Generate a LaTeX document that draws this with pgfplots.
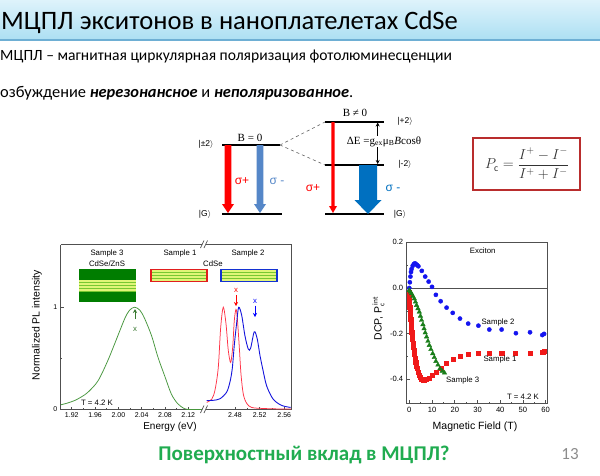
\documentclass[border=0pt]{standalone}
\usepackage{fontspec}
\setmainfont{Carlito}
\newfontfamily\chartfont{Liberation Sans}
\newfontfamily\tnr{Liberation Serif}
\usepackage{pgfplots}
\pgfplotsset{compat=1.18}
\usetikzlibrary{arrows.meta}
\definecolor{titletop}{RGB}{222,243,251}
\definecolor{titlebot}{RGB}{172,223,243}
\definecolor{titleline}{RGB}{110,175,212}
\definecolor{dgreen}{RGB}{0,125,0}
\definecolor{curvegreen}{RGB}{70,150,60}
\definecolor{curvered}{RGB}{255,50,70}
\definecolor{curveblue}{RGB}{20,20,220}
\definecolor{stripeY}{RGB}{225,245,120}
\definecolor{stripeG}{RGB}{120,200,50}
\definecolor{boxred}{RGB}{225,30,30}
\definecolor{boxblue}{RGB}{20,50,210}
\definecolor{steel}{RGB}{85,135,200}
\definecolor{office}{RGB}{0,112,192}
\definecolor{formred}{RGB}{185,45,45}
\definecolor{slidegreen}{RGB}{32,172,80}
\definecolor{mkblue}{RGB}{20,20,240}
\definecolor{mkred}{RGB}{240,25,25}
\definecolor{mkgreen}{RGB}{25,125,25}
\definecolor{axgray}{RGB}{80,80,80}
\begin{document}
\begin{tikzpicture}
\useasboundingbox (0pt,0pt) rectangle (600pt,-475pt);
\begin{scope}[x=1pt,y=-1pt]
\fill[white] (0,0) rectangle (600,475);
\shade[top color=titletop,bottom color=titlebot] (0,0) rectangle (600,40);
\draw[titleline,line width=1.2pt] (0,40) -- (600,40);
\node[anchor=base west,inner sep=0,font=\fontsize{26.6}{30}\selectfont] at (1,29) {МЦПЛ экситонов в наноплателетах CdSe};
\node[anchor=base west,inner sep=0,font=\fontsize{15.6}{19}\selectfont] at (0,60) {МЦПЛ – магнитная циркулярная поляризация фотолюминесценции};
\node[anchor=base west,inner sep=0,font=\fontsize{16.4}{19}\selectfont] at (0,97) {озбуждение \textbf{\textit{нерезонансное}} и \textbf{\textit{неполяризованное}}.};
\node[anchor=base,inner sep=0,font=\fontsize{21}{25}\selectfont\bfseries,text=slidegreen] at (304,460.7) {Поверхностный вклад в МЦПЛ?};
\node[anchor=base,inner sep=0,font=\fontsize{17}{20}\selectfont,text=black!45] at (570,459.3) {13};
\end{scope}

% ---------- left chart, first segment ----------
\begin{axis}[at={(60.7pt,-409.5pt)},anchor=south west,scale only axis,
  width=141.3pt,height=165pt,
  xmin=1.901,xmax=2.1435,ymin=0,ymax=1.613,
  axis x line*=box, axis y line*=left,
  xtick={1.92,1.96,2.00,2.04,2.08,2.12},
  xticklabels={1.92,1.96,2.00,2.04,2.08,2.12},
  ytick={0,1}, yticklabels={0,1},
  minor x tick num=1, minor y tick num=1,
  xtick pos=left, ytick pos=left,
  tick align=inside, major tick length=3pt, minor tick length=1.5pt,
  tick style={axgray,line width=0.6pt},
  axis line style={axgray,line width=0.7pt},
  tick label style={font=\chartfont\fontsize{7}{8}\selectfont},
  /pgf/number format/assume math mode=true]
\addplot[curvegreen,line width=0.75pt,smooth] coordinates {
(1.901,0.046) (1.912,0.062) (1.925,0.088) (1.937,0.125) (1.948,0.17) (1.965,0.28)
(1.982,0.48) (1.999,0.72) (2.011,0.89) (2.019,0.97) (2.028,1.0) (2.037,0.97)
(2.045,0.89) (2.057,0.72) (2.068,0.51) (2.080,0.32) (2.091,0.15) (2.102,0.056)
(2.114,0.007) (2.125,0.0) (2.1435,0.0)};
\end{axis}

% ---------- left chart, second segment ----------
\begin{axis}[at={(206pt,-409.5pt)},anchor=south west,scale only axis,
  width=85.7pt,height=165pt,
  xmin=2.433,xmax=2.572,ymin=0,ymax=1.613,
  axis x line*=box, axis y line*=right,
  xtick={2.48,2.52,2.56}, xticklabels={2.48,2.52,2.56},
  ytick=\empty, minor x tick num=1, xtick pos=left,
  tick align=inside, major tick length=3pt, minor tick length=1.5pt,
  tick style={axgray,line width=0.6pt},
  axis line style={axgray,line width=0.7pt},
  tick label style={font=\chartfont\fontsize{7}{8}\selectfont},
  /pgf/number format/assume math mode=true]
\addplot[curvered,line width=0.75pt,smooth] coordinates {
(2.4341,0.07) (2.4422,0.10) (2.4476,0.19) (2.4529,0.41) (2.4568,0.80) (2.4610,1.0)
(2.4654,0.84) (2.4691,0.58) (2.4730,0.46) (2.4763,0.61) (2.4789,0.87) (2.4816,0.98)
(2.4837,0.90) (2.4870,0.61) (2.4897,0.35) (2.4935,0.15) (2.4990,0.06) (2.5071,0.02)
(2.5259,0.01) (2.5557,0.005) (2.571,0.005)};
\addplot[curveblue,line width=0.9pt,smooth] coordinates {
(2.4341,0.088) (2.4448,0.09) (2.4557,0.105) (2.4665,0.17) (2.4719,0.27) (2.4756,0.40)
(2.4789,0.63) (2.4828,0.85) (2.4860,1.0) (2.4909,0.92) (2.4962,0.72) (2.5016,0.59)
(2.5054,0.60) (2.5113,0.76) (2.5161,0.69) (2.5205,0.53) (2.5249,0.40) (2.5314,0.23)
(2.5421,0.10) (2.5557,0.04) (2.5703,0.02)};
\end{axis}

% ---------- right chart ----------
\begin{axis}[at={(406.7pt,-403.3pt)},anchor=south west,scale only axis,
  width=140.6pt,height=161pt,
  xmin=-1.14,xmax=60.7,ymin=-0.505,ymax=0.2,
  xtick={0,10,20,30,40,50,60},
  ytick={-0.4,-0.2,0,0.2}, yticklabels={-0.4,-0.2,0.0,0.2},
  minor x tick num=1, minor y tick num=1,
  xtick pos=left, ytick pos=left,
  tick align=inside, major tick length=3pt, minor tick length=1.5pt,
  tick style={axgray,line width=0.6pt},
  axis line style={axgray,line width=0.9pt},
  tick label style={font=\chartfont\fontsize{7.6}{9}\selectfont},
  /pgf/number format/assume math mode=true]
\draw[axgray,line width=0.9pt] (axis cs:-1.14,0) -- (axis cs:60.7,0);
\addplot[only marks,mark=square*,mark size=2.1pt,mkred] coordinates {
(0,-0.017) (0,-0.04) (0.05,-0.061) (0.16,-0.083) (0.3,-0.10) (0.45,-0.119)
(0.6,-0.137) (0.75,-0.156) (0.9,-0.174) (1.04,-0.192) (1.2,-0.21) (1.33,-0.225)
(1.55,-0.242) (1.77,-0.258) (2.0,-0.275) (2.2,-0.290) (2.5,-0.307) (2.8,-0.324)
(3.1,-0.34) (3.5,-0.353) (3.9,-0.368) (4.4,-0.382) (4.9,-0.392) (5.4,-0.399)
(6.0,-0.404) (6.5,-0.405) (7.6,-0.399) (8.8,-0.394) (10.1,-0.382) (12.0,-0.368)
(14.2,-0.350) (16.4,-0.331) (19.4,-0.313) (22.3,-0.299) (26.0,-0.290) (30.4,-0.284)
(35.2,-0.284) (40.6,-0.287) (46.5,-0.287) (53.1,-0.284) (58.7,-0.281) (59.5,-0.277)};
\addplot[only marks,mark=*,mark size=2.1pt,mkblue] coordinates {
(0,0) (0.25,0.025) (0.5,0.05) (0.75,0.07) (1,0.083) (1.5,0.097) (2,0.105)
(2.5,0.108) (3,0.104) (3.5,0.1) (4,0.095) (5.5,0.075) (7,0.05) (8.5,0.028)
(10,0.005) (11.7,-0.03) (13.8,-0.058) (16.4,-0.086) (19.1,-0.109) (22.3,-0.134)
(25.9,-0.156) (30.4,-0.165) (35.2,-0.182) (40.6,-0.182) (46.9,-0.198)
(53.1,-0.194) (58.5,-0.206) (59.3,-0.201)};
\addplot[only marks,mark=triangle*,mark size=2.6pt,mkgreen] coordinates {
(0,-0.01) (0.5,-0.017) (1.0,-0.025) (1.6,-0.036) (2.2,-0.047) (2.7,-0.061)
(3.2,-0.076) (3.8,-0.090) (4.4,-0.105) (4.9,-0.123) (5.4,-0.141) (6.0,-0.160)
(6.5,-0.178) (7.0,-0.196) (7.6,-0.214) (8.2,-0.233) (8.8,-0.251) (9.5,-0.269)
(10.3,-0.287) (11.0,-0.304) (11.7,-0.321) (12.6,-0.337) (13.5,-0.353)
(14.5,-0.364) (15.5,-0.372)};
\end{axis}

\begin{scope}[x=1pt,y=-1pt]
% break marks
\draw[axgray,line width=0.7pt] (200.5,248) -- (204,240.5) (204,248) -- (207.5,240.5);
\draw[axgray,line width=0.7pt] (200.5,413) -- (204,405.5) (204,413) -- (207.5,405.5);
% insets
\fill[dgreen] (79,269) rectangle (136,302);
\fill[stripeG] (79,279.5) rectangle (136,292);
\foreach \yy in {280.3,283.3,286.3,289.3} {\fill[stripeY] (79,\yy) rectangle (136,\yy+1.4);}
\foreach \xa/\cc in {151/boxred,221/boxblue} {
  \fill[stripeY] (\xa,269.5) rectangle (\xa+56,281.5);
  \foreach \yy in {272.3,275.3,278.3} {\fill[stripeG] (\xa,\yy) rectangle (\xa+56,\yy+1.1);}
  \draw[\cc,line width=1.3pt] (\xa,269.5) rectangle (\xa+56,281.5);
}
\begin{scope}[font=\chartfont\fontsize{7.8}{9}\selectfont]
\node at (107,253) {Sample 3};
\node at (107,264) {CdSe/ZnS};
\node at (180,253) {Sample 1};
\node at (213,264) {CdSe};
\node at (248,253) {Sample 2};
\node at (97,402.5) {T = 4.2 K};
\node[text=curvegreen!80!black] at (135,329) {x};
\node[text=red] at (236,290.5) {x};
\node[text=blue] at (255,301) {x};
\node at (482.7,250.7) {Exciton};
\node at (523,396.7) {T = 4.2 K};
\node at (498,322.7) {Sample 2};
\node at (500,359.3) {Sample 1};
\node at (462.7,380.7) {Sample 3};
\end{scope}
\draw[curvegreen!80!black,line width=0.8pt,-{Stealth[length=4pt,width=4pt]}] (135,319) -- (135,309);
\draw[red,line width=0.8pt,-{Stealth[length=4pt,width=4pt]}] (236,295) -- (236,306);
\draw[blue,line width=0.8pt,-{Stealth[length=4pt,width=4pt]}] (255,305.5) -- (255,317);
% axis labels
\node[font=\chartfont\fontsize{10}{12}\selectfont] at (170,427) {Energy (eV)};
\node[font=\chartfont\fontsize{10.5}{12}\selectfont,rotate=90] at (37,325) {Normalized PL intensity};
\node[font=\chartfont\fontsize{10.5}{12}\selectfont] at (475,426.7) {Magnetic Field (T)};
\node[font=\chartfont\fontsize{10.5}{12}\selectfont,rotate=90] at (378.5,318.5) {DCP, P$_{\mathrm{c}}^{\,\mathrm{int}}$};
% energy diagram
\draw[black,line width=1.4pt] (222,145) -- (280,145) (222,214) -- (282,214);
\draw[black,line width=1.4pt] (325,122) -- (384,122) (325,165) -- (384,165) (325,214) -- (384,214);
\draw[black!60,dashed,line width=0.6pt] (280,145) -- (325,122) (280,145) -- (325,165);
\fill[red] (224.6,145) -- (231.4,145) -- (231.4,204) -- (234,204) -- (228,213) -- (222,204) -- (224.6,204) -- cycle;
\fill[steel] (256.6,145) -- (263.4,145) -- (263.4,204) -- (266,204) -- (260,213) -- (254,204) -- (256.6,204) -- cycle;
\fill[red] (331.3,122) -- (334.7,122) -- (334.7,206) -- (337,206) -- (333,213) -- (329,206) -- (331.3,206) -- cycle;
\fill[office] (359,165) -- (377,165) -- (377,200) -- (381.5,200) -- (368,214) -- (354.5,200) -- (359,200) -- cycle;
\draw[black,line width=0.8pt,{Stealth[length=4pt,width=4pt]}-{Stealth[length=4pt,width=4pt]}] (377.7,122.5) -- (377.7,164);
\begin{scope}[font=\tnr\fontsize{11}{13}\selectfont]
\node at (250,137.5) {B = 0};
\node at (355,112.5) {B ≠ 0};
\node[fill=white,inner sep=0.5pt] at (384,141.5) {ΔE =g\textsubscript{ex}μ\textsubscript{B}\textit{B}cosθ};
\end{scope}
\begin{scope}[font=\chartfont\fontsize{8.5}{10}\selectfont]
\node at (206,144) {|±2$\rangle$};
\node at (205,214.5) {|G$\rangle$};
\node at (405,121) {|+2$\rangle$};
\node at (405,164.5) {|-2$\rangle$};
\node at (400,214.5) {|G$\rangle$};
\end{scope}
\begin{scope}[font=\chartfont\fontsize{12}{14}\selectfont]
\node[text=red] at (242,181) {σ+};
\node[text=steel] at (277,181) {σ -};
\node[text=red] at (313,188) {σ+};
\node[text=office] at (393,188) {σ -};
\end{scope}
% formula
\draw[formred,line width=1.2pt] (473,138) rectangle (580,190);
\node[font=\fontsize{14}{17}\selectfont,text=black!80] at (527,164) {$\displaystyle P_{\mathrm{c}} = \frac{I^{+} - I^{-}}{I^{+} + I^{-}}$};
\end{scope}
\end{tikzpicture}
\end{document}
